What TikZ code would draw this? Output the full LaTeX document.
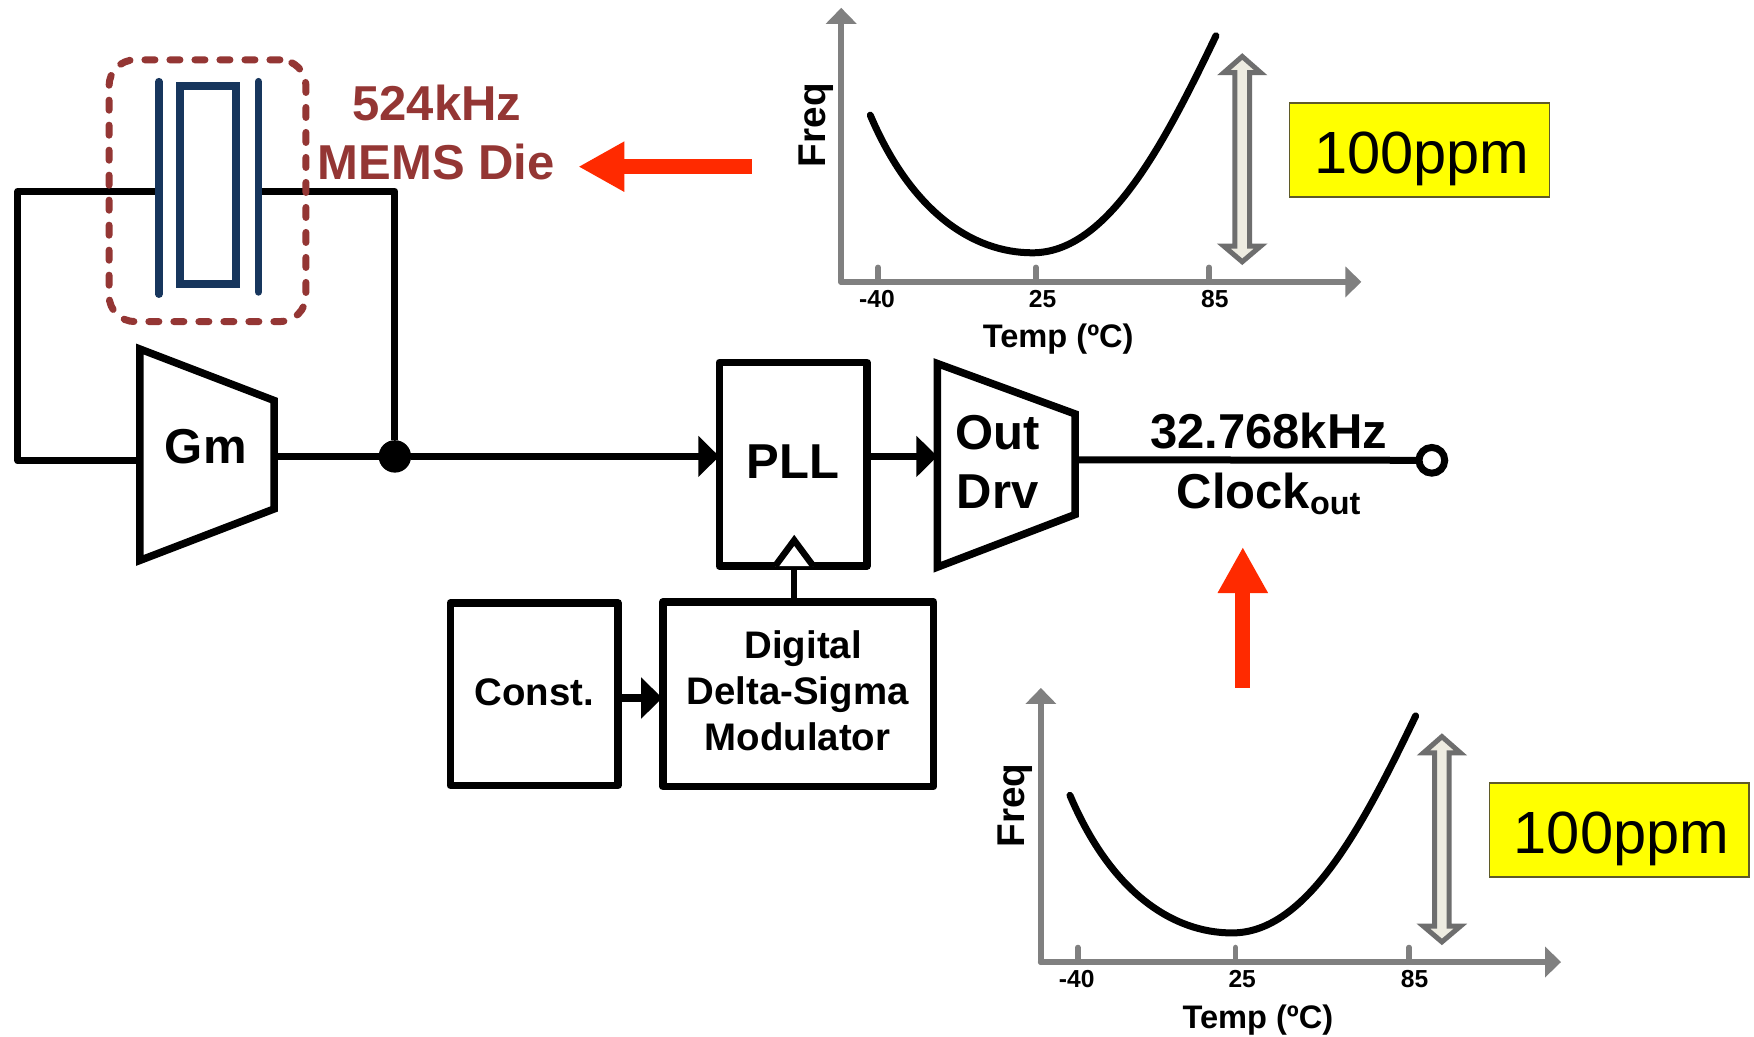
\documentclass[tikz,border=0pt]{standalone}
\usepackage{fontspec}
\setmainfont{Liberation Sans}
\usetikzlibrary{arrows.meta,calc}
\newcommand\fsz[1]{\fontsize{#1}{#1}\selectfont}
\def\U{1.1186pt}
\definecolor{diecol}{HTML}{943634}
\definecolor{bluecol}{HTML}{17365D}
\definecolor{redcol}{HTML}{FF2A00}
\definecolor{axiscol}{HTML}{808080}
\definecolor{dblfill}{HTML}{EEECE1}
\definecolor{dbledge}{HTML}{6E6E6E}
\definecolor{ybord}{HTML}{5F5A28}
\definecolor{yfill}{HTML}{FFFF00}
\tikzset{
  sharpwire/.style={line width=7pt,line join=round},
  inarrow/.style={line width=7pt,-{Triangle[length=21pt,width=40pt]}},
  blockbox/.style={draw,line width=7.5pt,line join=round,inner sep=0pt,outer sep=0pt,align=center},
  trap/.style={draw,line width=7.5pt,line join=miter},
  lbl/.style={inner sep=0pt,outer sep=0pt,anchor=base,font=\bfseries\fsz{49}},
  smalllbl/.style={inner sep=0pt,outer sep=0pt,anchor=base,font=\bfseries\fsz{38.4}},
  dielbl/.style={lbl,text=diecol},
  plate/.style={draw=bluecol,line width=7.5pt,line cap=round},
  redarrow/.style={draw=redcol,line width=15pt,-{Triangle[length=46pt,width=47pt]},redcol},
  axis/.style={draw=axiscol,line width=6pt,line cap=round,-{Triangle[length=16pt,width=30pt]}},
  tick/.style={draw=axiscol,line width=5.5pt,line cap=round},
  ticklbl/.style={inner sep=0pt,outer sep=0pt,anchor=base,font=\bfseries\fsz{24.6}},
  chartlbl/.style={inner sep=0pt,outer sep=0pt,anchor=base,font=\bfseries\fsz{32.6}},
  curve/.style={draw=black,line width=7pt,line cap=round},
  dbl/.style={draw=dbledge,fill=dblfill,line width=5pt,line join=miter},
  ppm/.style={draw=ybord,fill=yfill,line width=1.3pt,inner sep=0pt,outer sep=0pt},
  ppmlbl/.style={inner sep=0pt,outer sep=0pt,anchor=base,font=\fsz{59.6}}
}
\newcommand\tempchart[1]{%
\begin{scope}[shift={#1}]
  \coordinate (o) at (752,252);
  \coordinate (ytip) at (752,7);
  \coordinate (xtip) at (1217,252);
  \draw[axis] (o) -- (ytip);
  \draw[axis] (o) -- (xtip);
  \draw[tick] (785,252) -- (785,239);
  \draw[tick] (926,252) -- (926,239);
  \draw[tick] (1081,252) -- (1081,239);
  \node[ticklbl] (tm) at (784,274.6) {-40};
  \node[ticklbl] (tc) at (932,274.6) {25};
  \node[ticklbl] (th) at (1086,274.6) {85};
  \node[chartlbl] (tl) at (946,311) {Temp (ºC)};
  \node[chartlbl,font=\bfseries\fsz{38.7},rotate=90] (fl) at (737.6,112) {Freq};
  \draw[curve] (778,103) .. controls (815,190) and (870,226) .. (923,226) .. controls (990,226) and (1040,130) .. (1087,32);
  \draw[dbl] (1110.5,50.5) -- (1127,65) -- (1117,65) -- (1117,220) -- (1127,220) -- (1110.5,234) -- (1094,220) -- (1104,220) -- (1104,65) -- (1094,65) -- cycle;
  \node[ppm,minimum width=232*\U,minimum height=84*\U] (yb) at (1269,134) {};
  \node[ppmlbl] (yt) at (1271,155) {100ppm};
\end{scope}}
\begin{document}
\begin{tikzpicture}[x=1.1186pt,y=-1.1186pt]
\useasboundingbox[fill=white] (0,0) rectangle (1568,927);
% crystal
\coordinate (pl1t) at (142,73); \coordinate (pl1b) at (142,263);
\coordinate (pl2t) at (231,73); \coordinate (pl2b) at (231,261);
\coordinate (pl1w) at (142,171); \coordinate (pl2w) at (231,171);
\coordinate (c1) at (16,171); \coordinate (c2) at (16,412); \coordinate (gmin) at (124,412);
\coordinate (c3) at (353,171);
% Gm
\coordinate (g1) at (125,312); \coordinate (g2) at (245,358); \coordinate (g3) at (245,455); \coordinate (g4) at (125,501);
\coordinate (gmout) at (245,408);
\draw[sharpwire] (pl1w) -- (c1) -- (c2) -- (gmin);
\node[circle,fill=black,minimum size=29*\U,inner sep=0pt,outer sep=0pt] (dot) at (353,408) {};
\draw[sharpwire] (pl2w) -- (c3) -- (dot);
\draw[sharpwire] (gmout) -- (dot);
\draw[trap,fill=white] (g1) -- (g2) -- (g3) -- (g4) -- cycle;
\node[lbl] (gm) at (184,414.5) {Gm};
\draw[plate] (pl1t) -- (pl1b);
\draw[plate] (pl2t) -- (pl2b);
\node[draw=bluecol,line width=7.5pt,minimum width=50*\U,minimum height=177*\U,inner sep=0pt] (res) at (186,165.5) {};
\node[draw=diecol,line width=7pt,line cap=round,dash pattern=on 10pt off 15pt,rounded corners=26pt,minimum width=176*\U,minimum height=234*\U,inner sep=0pt] (die) at (185.5,170.5) {};
\node[dielbl] (f524) at (390.5,107.8) {524kHz};
\node[dielbl] (mems) at (390,160.5) {MEMS Die};
% blocks
\node[blockbox,minimum width=132*\U,minimum height=182*\U,font=\bfseries\fsz{49},text height=28pt,text depth=0pt] (pll) at (709,415) {PLL};
\draw[inarrow] (dot) -- (dot -| pll.west);
\node[blockbox,minimum width=150*\U,minimum height=163*\U,font=\bfseries\fsz{38.4},text height=23pt,text depth=0pt] (const) at (477.5,620.5) {Const.};
\node[blockbox,minimum width=242*\U,minimum height=165*\U,font=\bfseries\fsz{38.4}] (ddsm) at (713.5,620.5) {};
\node[smalllbl] (d1) at (718,589) {Digital};
\node[smalllbl] (d2) at (713,630) {Delta-Sigma};
\node[smalllbl] (d3) at (713,671) {Modulator};
\coordinate (cin) at (592,624);
\draw[inarrow,line width=8pt] (553,624 -| const.east) -- (cin);
\coordinate (tria) at (693,506); \coordinate (trib) at (710,483); \coordinate (tric) at (727,506);
\coordinate (tribase) at (710,506);
\draw[line width=6.5pt] (tribase |- ddsm.north) -- (tribase);
\draw[line width=6.5pt,fill=white,line join=miter] (tria) -- (trib) -- (tric);
% out driver
\coordinate (o1) at (838,325); \coordinate (o2) at (961,370); \coordinate (o3) at (961,460); \coordinate (o4) at (838,507);
\coordinate (oin) at (838,408); \coordinate (oout) at (961,411);
\draw[inarrow] (pll.east |- oin) -- (oin);
\draw[trap] (o1) -- (o2) -- (o3) -- (o4) -- cycle;
\node[lbl] (out) at (892,401.5) {Out};
\node[lbl] (drv) at (892,455) {Drv};
\node[circle,draw,fill=white,line width=7pt,minimum size=23*\U,inner sep=0pt,outer sep=0pt] (term) at (1280,411.5) {};
\draw[sharpwire] (oout) -- (term);
\node[lbl] (clkf) at (1134,401) {32.768kHz};
\node[lbl] (clk) at (1134,455) {Clock\raisebox{-5.6pt}{\fsz{32.4}out}};
% red arrows
\coordinate (ra1) at (672,149); \coordinate (ra2) at (517,149);
\coordinate (rb1) at (1111,615); \coordinate (rb2) at (1111,489);
\draw[redarrow] (ra1) -- (ra2);
\draw[redarrow] (rb1) -- (rb2);
% charts
\tempchart{(0,0)}
\tempchart{(178.5,608)}
\end{tikzpicture}
\end{document}
